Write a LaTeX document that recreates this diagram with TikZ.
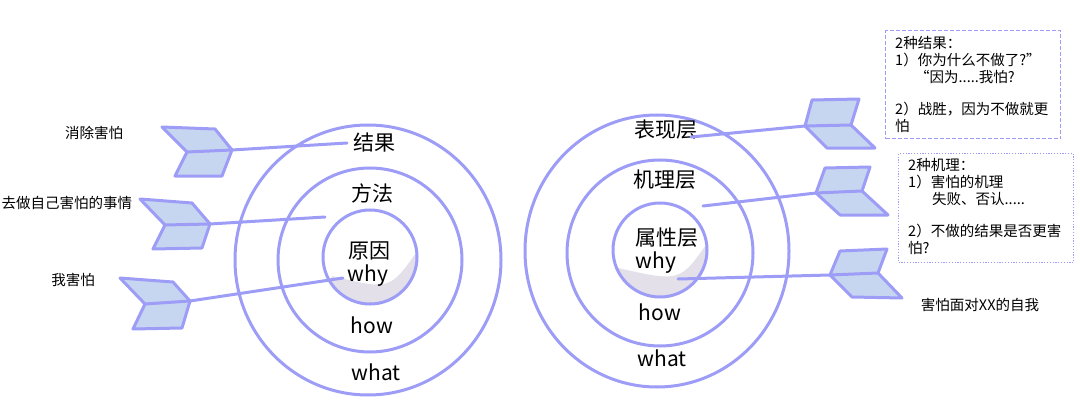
\documentclass[tikz,border=0pt]{standalone}
\usepackage{fontspec}
\setmainfont{Noto Sans CJK SC}
\definecolor{ring}{HTML}{9D9DF7}
\definecolor{feather}{HTML}{C6D6F0}
\definecolor{shadec}{HTML}{E4E0EA}
\begin{document}
\begin{tikzpicture}[x=1pt,y=-1pt,
  ringline/.style={draw=ring,line width=3pt},
  shaft/.style={draw=ring,line width=3pt,line cap=round},
  fletch/.style={draw=ring,fill=feather,line width=3pt,line join=round},
  big/.style={font=\fontsize{21}{25}\selectfont,inner sep=0pt},
  small/.style={font=\fontsize{14.5}{17}\selectfont,inner sep=0pt},
  boxtext/.style={font=\fontsize{14.5}{17}\selectfont,inner sep=0pt,align=left,anchor=north west}]
\useasboundingbox (0,0) rectangle (1080,412);
% ---------- left target ----------
\begin{scope}
  \clip (370,257) circle (47);
  \fill[shadec] (332,276) .. controls (390,290) .. (418,250) -- (430,320) -- (310,320) -- cycle;
\end{scope}
\draw[ringline] (368,260) ellipse (133 and 135);
\draw[ringline] (370,260) circle (92);
\draw[ringline] (370,257) circle (47);
% ---------- right target ----------
\begin{scope}
  \clip (660,250) circle (47);
  \fill[shadec] (618,268) .. controls (680,282) .. (708,242) -- (720,310) -- (600,310) -- cycle;
\end{scope}
\draw[ringline] (657,251) ellipse (132 and 136);
\draw[ringline] (660,253) circle (93);
\draw[ringline] (660,250) circle (47);
% ---------- labels in targets ----------
\node[big] (jg) at (374,143) {结果};
\node[big] (ff) at (372,193) {方法};
\node[big] (yy) at (369,251) {原因};
\node[big] (why1) at (368,276) {why};
\node[big] (how1) at (372,325) {how};
\node[big] (what1) at (376,372) {what};
\node[big] (bx) at (666,130) {表现层};
\node[big] (jl) at (665,180) {机理层};
\node[big] (sx) at (667,238) {属性层};
\node[big] (why2) at (656,263) {why};
\node[big] (how2) at (660,312) {how};
\node[big] (what2) at (662,358) {what};
% ---------- left arrows ----------
\coordinate (a1) at (232,150); \coordinate (e1) at (347,143);
\coordinate (a2) at (210,224); \coordinate (e2) at (325,217);
\coordinate (a3) at (190,301); \coordinate (e3) at (343,278);
\draw[shaft] (a1) -- (e1);
\draw[shaft] (a2) -- (e2);
\draw[shaft] (a3) -- (e3);
\draw[fletch] (162,127) -- (215,129) -- (a1) -- (222,176) -- (175,176) -- (187,152) -- cycle;
\draw[shaft] (187,152) -- (a1);
\draw[fletch] (140,199) -- (192,203) -- (a2) -- (202,248) -- (153,249) -- (165,225) -- cycle;
\draw[shaft] (165,225) -- (a2);
\draw[fletch] (120,278) -- (173,282) -- (a3) -- (182,328) -- (133,329) -- (145,304) -- cycle;
\draw[shaft] (145,304) -- (a3);
\node[small] (t1) at (94,133) {消除害怕};
\node[small] (t2) at (67,203) {去做自己害怕的事情};
\node[small] (t3) at (73,280) {我害怕};
% ---------- right arrows ----------
\coordinate (b1) at (805,126); \coordinate (f1) at (691,137);
\coordinate (b2) at (816,193); \coordinate (f2) at (703,206);
\coordinate (b3) at (830,275); \coordinate (f3) at (678,279);
\draw[shaft] (b1) -- (f1);
\draw[shaft] (b2) -- (f2);
\draw[shaft] (b3) -- (f3);
\draw[fletch] (812,100) -- (859,99) -- (851,125) -- (875,148) -- (827,148) -- (b1) -- cycle;
\draw[shaft] (b1) -- (851,125);
\draw[fletch] (825,168) -- (870,167) -- (862,191) -- (888,215) -- (840,215) -- (b2) -- cycle;
\draw[shaft] (b2) -- (862,191);
\draw[fletch] (840,251) -- (887,249) -- (878,273) -- (902,298) -- (852,297) -- (b3) -- cycle;
\draw[shaft] (b3) -- (878,273);
\node[small] (t4) at (980,305) {害怕面对XX的自我};
% ---------- note boxes ----------
\node[draw=ring,line width=1.2pt,dash pattern=on 4pt off 2pt,minimum width=175pt,minimum height=108pt,anchor=north west,inner sep=0pt] (n1) at (885,30) {};
\node[boxtext] (n1t) at (895,36) {2种结果：\\1）你为什么不做了?”\\\hspace*{20pt}“因为.....我怕?\\[15pt]2）战胜，因为不做就更\\怕};
\node[draw=ring,line width=1.2pt,dash pattern=on 1.2pt off 1.6pt,minimum width=175pt,minimum height=109pt,anchor=north west,inner sep=0pt] (n2) at (898,153) {};
\node[boxtext] (n2t) at (908,158) {2种机理：\\1）害怕的机理\\\hspace*{24pt}失败、否认.....\\[15pt]2）不做的结果是否更害\\怕?};
\end{tikzpicture}
\end{document}
